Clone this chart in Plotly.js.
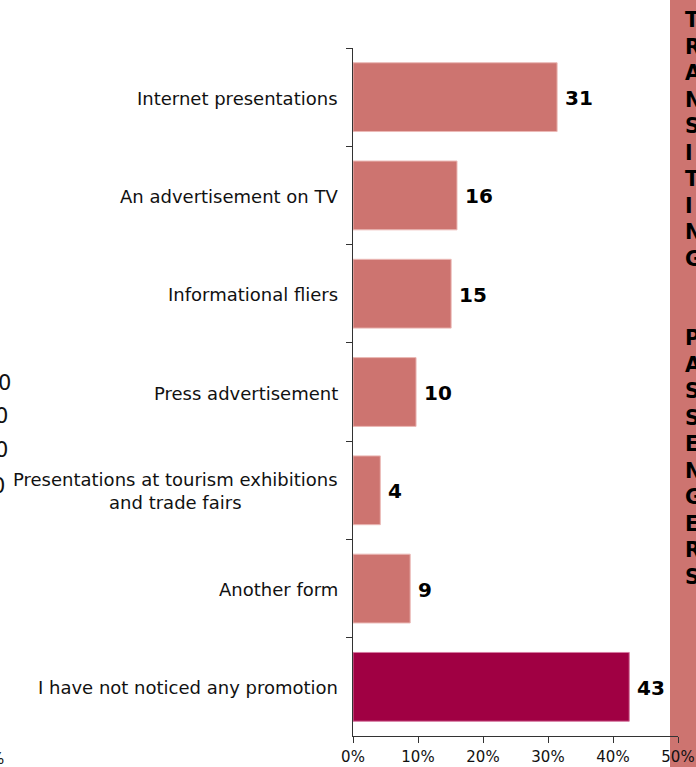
<!DOCTYPE html>
<html>
<head>
<meta charset="utf-8">
<script src="https://cdn.plot.ly/plotly-3.0.1.min.js"></script>
<style>
html,body{margin:0;padding:0;background:#fff;}
#chart{width:696px;height:767px;}
</style>
</head>
<body>
<div id="chart"></div>
<script>
// ---- data ----
const categories = [
  "Internet presentations",
  "An advertisement on TV",
  "Informational fliers",
  "Press advertisement",
  "Presentations at tourism exhibitions<br>and trade fairs",
  "Another form",
  "I have not noticed any promotion"
];
const values = [31.4, 16.0, 15.1, 9.7, 4.2, 8.8, 42.5];
const valueLabels = ["31", "16", "15", "10", "4", "9", "43"];
const xTickVals = [0, 10, 20, 30, 40, 50];
const xTickText = ["0%", "10%", "20%", "30%", "40%", "50%"];
const sideLabel = "TRANSITING  PASSENGERS";
const leftFragments = ["0", "0", "0", "0"];

// ---- styling ----
const barColors = values.map((v, i) => i === values.length - 1 ? "#A00043" : "#CD7470");
const barLines = values.map((v, i) => i === values.length - 1 ? "#D67AA0" : "#EBB9B6");
const FONT = "DejaVu Sans, Verdana, sans-serif";

const W = 696, H = 767, ML = 353, MR = 18, MT = 48, MB = 31;
const PW = W - ML - MR, PH = H - MT - MB;
const px = p => (p - ML) / PW;
const py = p => (H - MB - p) / PH;

const annotations = [];
categories.forEach((c, i) => {
  annotations.push({
    x: 0, xref: "paper", y: c, yref: "y",
    text: c, showarrow: false, xanchor: "right", yanchor: "middle",
    align: "center", xshift: -13, yshift: -1,
    font: {family: FONT, size: 18, color: "#111"}
  });
  annotations.push({
    x: values[i], xref: "x", y: c, yref: "y",
    text: valueLabels[i], showarrow: false, xanchor: "left", yanchor: "middle",
    xshift: 6, yshift: -1,
    font: {family: FONT, size: 20, color: "#000", weight: "bold"}
  });
});
// vertical side label
annotations.push({
  x: px(683), xref: "paper", y: py(6), yref: "paper",
  text: sideLabel.split("").map(ch => ch === " " ? "&nbsp;" : ch).join("<br>"),
  showarrow: false, xanchor: "left", yanchor: "top", align: "left",
  font: {family: FONT, size: 20.4, color: "#000", weight: "bold"}
});
// clipped fragments at the left edge
const fragY = [383, 416, 450, 486];
const fragR = [13, 10, 10, 7];
leftFragments.forEach((t, i) => {
  annotations.push({
    x: px(fragR[i]), xref: "paper", y: py(fragY[i]), yref: "paper",
    text: t, showarrow: false, xanchor: "right", yanchor: "middle",
    font: {family: FONT, size: 21, color: "#111"}
  });
});
annotations.push({
  x: px(6), xref: "paper", y: py(759), yref: "paper",
  text: "%", showarrow: false, xanchor: "right", yanchor: "middle",
  font: {family: FONT, size: 15, color: "#111"}
});

const trace = {
  type: "bar", orientation: "h",
  x: values, y: categories,
  marker: {color: barColors, line: {color: barLines, width: 1}},
  hoverinfo: "x+y"
};

const layout = {
  width: W, height: H,
  margin: {l: ML, r: MR, t: MT, b: MB, pad: 0},
  paper_bgcolor: "#fff", plot_bgcolor: "rgba(0,0,0,0)",
  showlegend: false, bargap: 0.30,
  font: {family: FONT, size: 15, color: "#111"},
  xaxis: {
    range: [0, 50], tickvals: xTickVals, ticktext: xTickText,
    showgrid: false, zeroline: false, showline: true, linecolor: "#333", linewidth: 1,
    ticks: "outside", ticklen: 6, tickcolor: "#333", ticklabelstandoff: 1,
    tickfont: {family: FONT, size: 15, color: "#111"}, fixedrange: true
  },
  yaxis: {
    type: "category", autorange: "reversed",
    showgrid: false, zeroline: false, showline: true, linecolor: "#333", linewidth: 1,
    ticks: "outside", ticklen: 6, tickcolor: "#333", tickson: "boundaries",
    showticklabels: false, fixedrange: true
  },
  shapes: [{
    type: "rect", xref: "paper", yref: "paper", layer: "below",
    x0: px(670), x1: px(700), y0: py(H + 5), y1: py(-5),
    fillcolor: "#CD7470", line: {width: 0}
  }],
  annotations: annotations
};

Plotly.newPlot("chart", [trace], layout, {displayModeBar: false, staticPlot: true});
</script>
</body>
</html>
